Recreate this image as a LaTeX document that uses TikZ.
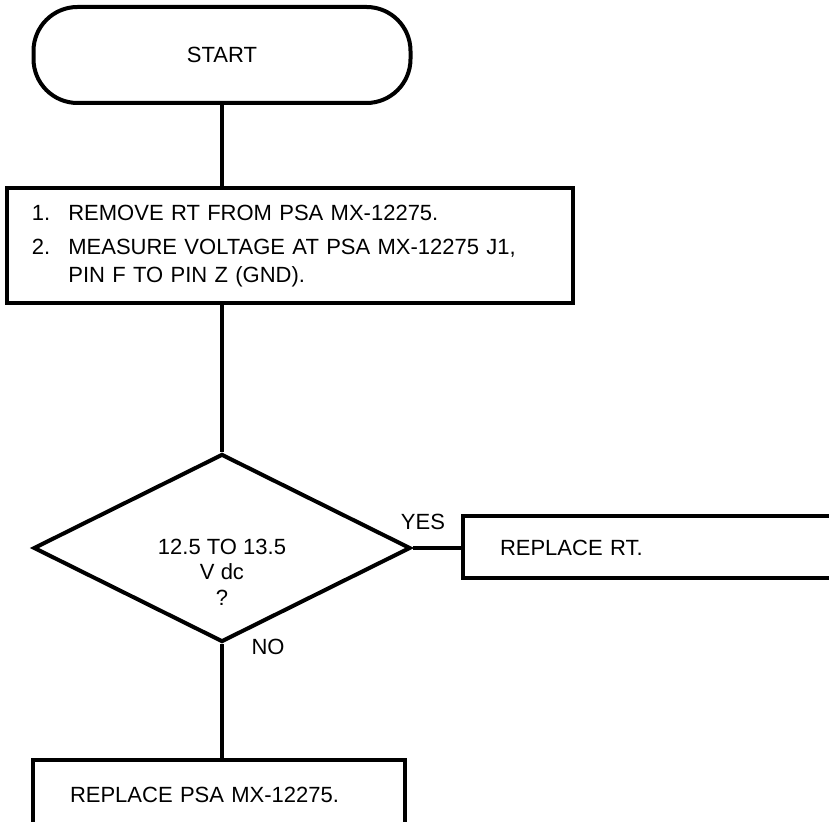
\documentclass[tikz,border=0pt]{standalone}
\usepackage{fontspec}
\setmainfont{Liberation Sans}
\usetikzlibrary{shapes.geometric,calc}
\begin{document}
\begin{tikzpicture}[x=0.5pt,y=-0.5pt,
  every node/.style={font=\fontsize{11}{14}\selectfont},
  box/.style={draw,line width=2pt,rectangle,inner ysep=0pt},
  conn/.style={line width=2pt},
  lbl/.style={inner sep=0pt}]
\clip (0,0) rectangle (829,822);
\node[box, rounded corners=22pt, minimum width=188.5pt, minimum height=48pt] (start) at (222,55) {START};
\node[box, minimum width=283pt, minimum height=57.5pt, text width=258pt, inner xsep=12.5pt, align=left] (s1) at (290,245.5)
  {\noindent\begin{tabular}{@{}l@{\hspace{9pt}}l@{}}1.&REMOVE RT FROM PSA MX-12275.\\[3pt]
   2.&MEASURE VOLTAGE AT PSA MX-12275 J1,\\ &PIN F TO PIN Z (GND).\end{tabular}};
\node[draw, diamond, line width=2pt, minimum width=188.5pt, minimum height=94pt, inner sep=0pt] (d) at (222,548) {};
\node[lbl, align=center, font=\fontsize{11}{12.75}\selectfont] (dq) at (222,572) {12.5 TO 13.5\\V dc\\?};
\node[lbl] (yes) at (423,522) {YES};
\node[lbl] (no) at (268,647) {NO};
\node[box, minimum width=218.5pt, minimum height=31pt, text width=181.5pt, inner xsep=18.5pt, align=left] (rt) at (681.5,547.5) {REPLACE RT.};
\node[box, minimum width=186pt, minimum height=35pt, text width=149pt, inner xsep=18.5pt, align=left] (fin) at (219,795) {REPLACE PSA MX-12275.};
\draw[conn] (start.south) -- (start.south |- s1.north);
\draw[conn] (start.south |- s1.south) -- (d.north);
\draw[conn] (d.east) -- (d.east -| rt.west);
\draw[conn] (d.south) -- (d.south |- fin.north);
\end{tikzpicture}
\end{document}
